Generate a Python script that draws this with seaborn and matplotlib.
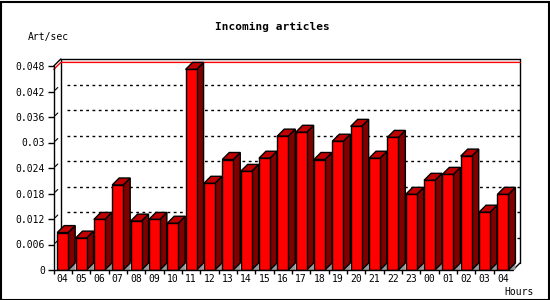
import matplotlib
matplotlib.use("Agg")
import matplotlib.pyplot as plt
from matplotlib.patches import Polygon, Rectangle
import numpy as np
import pandas as pd
import seaborn as sns

# ---- data ----
hours = ["04", "05", "06", "07", "08", "09", "10", "11", "12", "13", "14", "15",
         "16", "17", "18", "19", "20", "21", "22", "23", "00", "01", "02", "03", "04"]
rates = [0.0088, 0.0075, 0.0119, 0.0200, 0.0115, 0.0119, 0.0110, 0.0472,
         0.0204, 0.0260, 0.0232, 0.0263, 0.0315, 0.0324, 0.0260, 0.0303,
         0.0338, 0.0263, 0.0312, 0.0178, 0.0211, 0.0225, 0.0268, 0.0136, 0.0178]
yticks = [0, 0.006, 0.012, 0.018, 0.024, 0.030, 0.036, 0.042, 0.048]
ytick_labels = ["0", "0.006", "0.012", "0.018", "0.024", "0.03", "0.036", "0.042", "0.048"]
title = "Incoming articles"
ylabel = "Art/sec"
xlabel = "Hours"

sns.set_theme(style="white")
plt.rcParams["font.family"] = ["DejaVu Sans Mono"]

W, H = 550, 300
fig = plt.figure(figsize=(5.5, 3.0), dpi=100)
fig.patch.set_facecolor("white")

ax_left, ax_right = 53.5, 513.0
ax_bottom, ax_top = 270.0, 66.0
ax = fig.add_axes([ax_left / W, (H - ax_bottom) / H,
                   (ax_right - ax_left) / W, (ax_bottom - ax_top) / H])
ax.set_facecolor("none")

df = pd.DataFrame({"slot": np.arange(len(hours)), "rate": rates})
sns.barplot(data=df, x="slot", y="rate", color="#ff0000", saturation=1,
            edgecolor="black", linewidth=1.0, width=0.6, ax=ax, zorder=3)

x0, x1 = -0.485, len(hours) - 0.45
y0, y1 = 0.0, 0.048
ax.set_xlim(x0, x1)
ax.set_ylim(y0, y1)

px_x = (ax_right - ax_left) / (x1 - x0)
px_y = (ax_bottom - ax_top) / (y1 - y0)
dx = 7.0 / px_x
dy = 7.0 / px_y

# back wall frame
kw = dict(color="black", lw=1.0, clip_on=False, zorder=1)
ax.plot([x0 + dx, x0 + dx], [dy, y1 + dy], **kw)
ax.plot([x0 + dx, x1 + dx], [y1 + dy, y1 + dy], **kw)
ax.plot([x1 + dx, x1 + dx], [dy, y1 + dy], **kw)
ax.plot([x0, x0 + dx], [y1, y1 + dy], **kw)
ax.plot([x1, x1 + dx], [0, dy], **kw)
ax.plot([x0, x0], [0, y1], color="black", lw=1.0, clip_on=False, zorder=6)
ax.plot([x0, x1], [0, 0], color="black", lw=1.0, clip_on=False, zorder=6)

# dotted gridlines on the back wall + little diagonal marks
for v in yticks[1:-1]:
    ax.plot([x0 + dx + 6.0 / px_x, x1 + dx], [v + dy, v + dy], color="black",
            lw=1.0, ls=(0, (2, 2.5)), clip_on=False, zorder=1)
    ax.plot([x0 + 1.5 / px_x, x0 + 4.0 / px_x], [v + 1.5 / px_y, v + 4.0 / px_y],
            color="black", lw=0.8, clip_on=False, zorder=1)

# max line in red
vmax = max(rates)
ax.plot([x0, x0 + dx, x1 + dx], [vmax, vmax + dy, vmax + dy], color="red",
        lw=1.0, clip_on=False, zorder=2)

# 3D faces for each bar
bars = list(ax.patches)
for p in bars:
    bx, bw, bh = p.get_x(), p.get_width(), p.get_height()
    r = bx + bw
    side = Polygon([(r, 0), (r + dx, dy), (r + dx, bh + dy), (r, bh)], closed=True,
                   facecolor="#800000", edgecolor="black", lw=1.0, zorder=2.5,
                   clip_on=False)
    top = Polygon([(bx, bh), (bx + dx, bh + dy), (r + dx, bh + dy), (r, bh)],
                  closed=True, facecolor="#c00000", edgecolor="black", lw=1.0,
                  zorder=2.5, clip_on=False)
    floor = Polygon([(r, 0), (r + dx, dy), (r + dx, 0)], closed=True,
                    facecolor="#9a9a9a", edgecolor="none", zorder=2.4,
                    clip_on=False)
    ax.add_patch(floor)
    ax.add_patch(side)
    ax.add_patch(top)

for s in ax.spines.values():
    s.set_visible(False)

ax.set_yticks(yticks)
ax.set_yticklabels(ytick_labels)
ax.set_xticks(np.arange(len(hours)))
ax.set_xticklabels(hours)
ax.set_xticks(np.arange(len(hours)) - 0.5, minor=True)
ax.tick_params(axis="y", which="major", left=True, length=4, width=1, color="black",
               labelsize=7, pad=2, labelcolor="black")
ax.tick_params(axis="x", which="major", bottom=False, length=0, labelsize=7, pad=3,
               labelcolor="black")
ax.tick_params(axis="x", which="minor", bottom=True, length=3, width=1, color="black")
ax.set_xlabel("")
ax.set_ylabel("")
ax.grid(False)

fig.text(272 / W, 1 - 27 / H, title, ha="center", va="center", fontsize=8,
         fontweight="bold", color="black")
fig.text(28 / W, 1 - 37 / H, ylabel, ha="left", va="center", fontsize=7, color="black")
fig.text(534 / W, 1 - 292 / H, xlabel, ha="right", va="center", fontsize=7, color="black")

fig.patches.append(Rectangle((0.5 / W, 0.5 / H), 1 - 1.5 / W, 1 - 2.5 / H,
                             transform=fig.transFigure, fill=False,
                             edgecolor="black", lw=1.5, zorder=10))

fig.savefig("out.png", dpi=100, facecolor="white")
